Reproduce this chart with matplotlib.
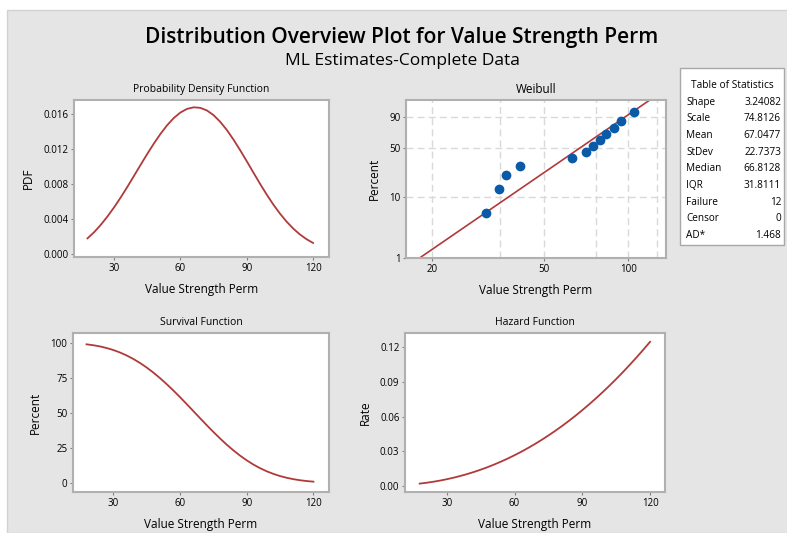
import numpy as np
import matplotlib
matplotlib.use("Agg")
import matplotlib.pyplot as plt
from matplotlib.patches import Rectangle

plt.rcParams['font.family'] = ['Open Sans', 'DejaVu Sans']

# curve values (x in Value Strength Perm)
curve_x = [18, 21, 24, 27, 30, 33, 36, 39, 42, 45, 48, 51, 54, 57, 60, 63, 66, 69,
           72, 75, 78, 81, 84, 87, 90, 93, 96, 99, 102, 105, 108, 111, 114, 117, 120]
pdf_vals = [0.00176, 0.00247, 0.00331, 0.00426, 0.00531, 0.00645, 0.00766, 0.00892, 0.01019,
            0.01144, 0.01264, 0.01375, 0.01474, 0.01557, 0.01620, 0.01662, 0.01680, 0.01674,
            0.01644, 0.01590, 0.01514, 0.01420, 0.01310, 0.01189, 0.01062, 0.00932, 0.00803,
            0.00680, 0.00565, 0.00461, 0.00369, 0.00289, 0.00222, 0.00167, 0.00123]
surv_pct = [99.02, 98.38, 97.52, 96.39, 94.96, 93.20, 91.08, 88.60, 85.73, 82.49, 78.88, 74.91,
            70.64, 66.09, 61.32, 56.39, 51.37, 46.33, 41.35, 36.49, 31.83, 27.42, 23.33, 19.58,
            16.20, 13.21, 10.61, 8.38, 6.52, 4.98, 3.74, 2.76, 1.99, 1.41, 0.98]
hazard = [0.00178, 0.00251, 0.00339, 0.00441, 0.00559, 0.00692, 0.00841, 0.01006, 0.01188,
          0.01387, 0.01602, 0.01836, 0.02087, 0.02355, 0.02642, 0.02947, 0.03271, 0.03614,
          0.03976, 0.04356, 0.04757, 0.05176, 0.05616, 0.06075, 0.06555, 0.07054, 0.07575,
          0.08115, 0.08676, 0.09259, 0.09862, 0.10487, 0.11133, 0.11800, 0.12489]

# Weibull probability plot points
obs_x = [31.3, 34.6, 36.8, 41.2, 63.0, 70.6, 74.8, 79.1, 83.2, 89.0, 94.3, 104.3]
obs_pct = [5.65, 13.7, 21.8, 29.8, 37.9, 46.0, 54.0, 62.1, 70.2, 78.2, 86.3, 94.4]
fit_x = [18.1, 119.9]
fit_pct = [1.0, 99.0]

stat_names = ["Shape", "Scale", "Mean", "StDev", "Median", "IQR", "Failure", "Censor", "AD*"]
stat_vals = ["3.24082", "74.8126", "67.0477", "22.7373", "66.8128", "31.8111", "12", "0", "1.468"]

W, H = 787, 533
fig = plt.figure(figsize=(W / 100, H / 100), dpi=100)
fig.patch.set_facecolor("white")
fig.patches.append(Rectangle((7 / W, 0), 1, 1 - 10 / H, transform=fig.transFigure,
                             facecolor="#e5e5e5", edgecolor="#d2d2d2", lw=1, zorder=-10))

RED = "#b03a3a"
SPINE = "#b0b0b0"


def ax_at(l, t, r, b):
    ax = fig.add_axes([l / W, 1 - b / H, (r - l) / W, (b - t) / H])
    for s in ax.spines.values():
        s.set_color(SPINE)
        s.set_linewidth(1.5)
    ax.tick_params(labelsize=7, length=2, width=0.8, color="#808080", pad=2)
    return ax


def xlab(ax):
    ax.set_xlabel("Value Strength Perm", fontsize=8.5, labelpad=7)


# PDF
ax1 = ax_at(74, 100, 329, 257)
ax1.plot(curve_x, pdf_vals, color=RED, lw=1.3)
ax1.set_xlim(11.9, 127.2)
ax1.set_ylim(-0.00038, 0.01764)
ax1.set_xticks([30, 60, 90, 120])
ax1.set_yticks([0, 0.004, 0.008, 0.012, 0.016])
ax1.set_yticklabels(["0.000", "0.004", "0.008", "0.012", "0.016"])
ax1.set_ylabel("PDF", fontsize=8.5, labelpad=6)
ax1.set_title("Probability Density Function", fontsize=7.5, pad=6)
xlab(ax1)

# Weibull probability plot
def fwd(p):
    p = np.clip(np.asarray(p, dtype=float), 1e-6, 100 - 1e-6)
    return np.log(-np.log(1 - p / 100))


def inv(y):
    return 100 * (1 - np.exp(-np.exp(y)))


ax2 = ax_at(406, 100, 666, 258)
ax2.set_xscale("log")
ax2.set_yscale("function", functions=(fwd, inv))
for gx in [20, 35, 50, 77, 100, 126]:
    ax2.axvline(gx, color="#d9d9d9", lw=1, ls=(0, (5, 3)), zorder=0)
for gy in [10, 50, 90]:
    ax2.axhline(gy, color="#d9d9d9", lw=1, ls=(0, (5, 3)), zorder=0)
ax2.plot(fit_x, fit_pct, color=RED, lw=1.2, zorder=2)
ax2.scatter(obs_x, obs_pct, s=36, color="#0a5aa8", zorder=3)
ax2.set_xlim(16.2, 136)
ax2.set_ylim(1, 98.9)
ax2.set_xticks([20, 50, 100])
ax2.set_xticklabels(["20", "50", "100"])
ax2.xaxis.set_minor_locator(matplotlib.ticker.NullLocator())
ax2.set_yticks([1, 10, 50, 90])
ax2.set_yticklabels(["1", "10", "50", "90"])
ax2.yaxis.set_minor_locator(matplotlib.ticker.NullLocator())
ax2.set_ylabel("Percent", fontsize=8.5, labelpad=6)
ax2.set_title("Weibull", fontsize=8.5, pad=5)
xlab(ax2)

# Survival
ax3 = ax_at(73, 333, 329, 492)
ax3.plot(curve_x, surv_pct, color=RED, lw=1.3)
ax3.set_xlim(11.9, 127)
ax3.set_ylim(-6.4, 107.1)
ax3.set_xticks([30, 60, 90, 120])
ax3.set_yticks([0, 25, 50, 75, 100])
ax3.set_ylabel("Percent", fontsize=8.5, labelpad=6)
ax3.set_title("Survival Function", fontsize=7.5, pad=6)
xlab(ax3)

# Hazard
ax4 = ax_at(405, 333, 665, 492)
ax4.plot(curve_x, hazard, color=RED, lw=1.3)
ax4.set_xlim(11.5, 126.6)
ax4.set_ylim(-0.0055, 0.1325)
ax4.set_xticks([30, 60, 90, 120])
ax4.set_yticks([0, 0.03, 0.06, 0.09, 0.12])
ax4.set_yticklabels(["0.00", "0.03", "0.06", "0.09", "0.12"])
ax4.set_ylabel("Rate", fontsize=8.5, labelpad=6)
ax4.set_title("Hazard Function", fontsize=7.5, pad=6)
xlab(ax4)

# titles
fig.text(402 / W, 1 - 38 / H, "Distribution Overview Plot for Value Strength Perm",
         ha="center", va="center", fontsize=15, fontweight="semibold")
fig.text(402 / W, 1 - 61 / H, "ML Estimates-Complete Data",
         ha="center", va="center", fontsize=12.5)

# table of statistics
fig.patches.append(Rectangle((680 / W, 1 - 245 / H), 104 / W, 177 / H, transform=fig.transFigure,
                             facecolor="white", edgecolor="#a8a8a8", lw=1, zorder=1))
fig.text(732 / W, 1 - 86 / H, "Table of Statistics", ha="center", va="center", fontsize=7.3)
for i, (n, v) in enumerate(zip(stat_names, stat_vals)):
    yy = 1 - (102 + i * 16.7) / H
    fig.text(686 / W, yy, n, ha="left", va="center", fontsize=7.2)
    fig.text(781 / W, yy, v, ha="right", va="center", fontsize=7.2)

fig.savefig("out.png", dpi=100)
